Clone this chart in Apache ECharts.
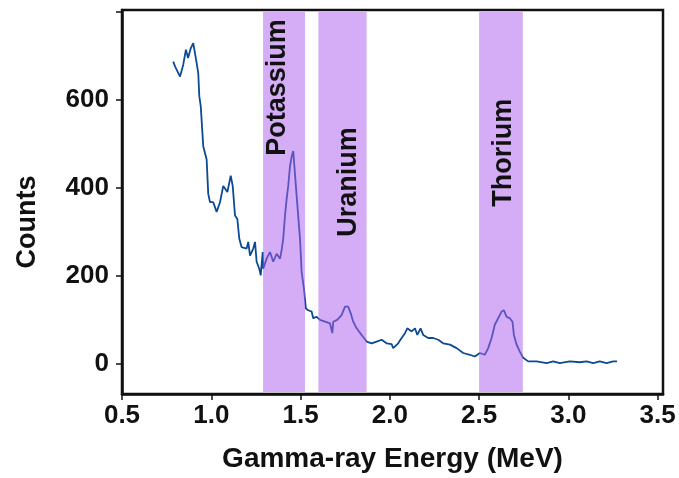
<!DOCTYPE html>
<html>
<head>
<meta charset="utf-8">
<script src="https://cdn.jsdelivr.net/npm/echarts@6/dist/echarts.min.js"></script>
<style>html,body{margin:0;padding:0;background:#fff;}#c{width:679px;height:478px;}</style>
</head>
<body>
<div id="c"></div>
<script>
const energy = [0.787,0.797,0.825,0.843,0.858,0.870,0.885,0.899,0.918,0.927,0.933,0.941,0.955,0.974,0.983,0.993,1.011,1.030,1.049,1.067,1.090,1.109,1.120,1.133,1.146,1.157,1.170,1.198,1.207,1.217,1.235,1.245,1.254,1.269,1.277,1.288,
  1.291,1.310,1.329,1.347,1.366,1.385,1.394,1.403,1.413,1.422,1.431,1.441,1.450,1.459,1.478,1.497,1.506,1.519,1.530,1.543,1.562,1.571,1.590,1.609,1.637,1.665,1.678,1.683,1.705,1.730,1.749,1.767,1.781,1.795,1.814,1.842,1.870,1.898,1.926,1.954,1.982,2.010,2.019,2.047,
  2.066,2.085,2.098,2.122,2.141,2.154,2.172,2.187,2.215,2.243,2.271,2.299,2.337,2.374,2.411,2.448,2.476,2.504,2.532,2.551,2.570,2.588,2.607,2.626,2.639,2.654,2.672,2.687,2.695,2.710,2.728,2.747,2.775,2.822,2.878,2.915,2.952,3.008,3.064,3.102,3.139,3.176,3.214,3.251,3.273];
const counts = [686,675,652,679,713,694,716,728,683,660,607,585,494,464,386,367,367,345,367,404,390,427,404,337,329,284,265,262,277,246,262,277,232,216,201,254,
  216,239,254,232,250,239,258,284,337,374,404,449,470,483,382,284,209,171,126,122,119,104,107,100,96,92,70,96,100,111,130,130,115,96,81,66,51,47,51,55,47,45,36,47,
  59,70,81,74,81,66,81,66,59,59,55,47,44,36,25,21,17,25,21,36,59,89,104,119,122,107,104,96,66,44,28,14,6,6,2,6,2,6,4,6,2,6,2,6,6];

const bandStart = [1.29, 1.60, 2.50];
const bandEnd = [1.525, 1.87, 2.745];
const bandLabels = ['Potassium', 'Uranium', 'Thorium'];
const bandLabelEnergy = [1.373, 1.768, 2.636];
const bandLabelCounts = [627, 413, 479];

const xTicks = [0.5, 1.0, 1.5, 2.0, 2.5, 3.0, 3.5];
const yTicks = [0, 200, 400, 600];

const FONT = '"Liberation Sans", Arial, Helvetica, sans-serif';
const lineData = energy.map((e, i) => [e, counts[i]]);
const bandData = bandStart.map((s, i) => [s, bandEnd[i], bandLabelEnergy[i], bandLabelCounts[i], bandLabels[i]]);

const chart = echarts.init(document.getElementById('c'), null, {renderer: 'canvas'});
chart.setOption({
  animation: false,
  backgroundColor: '#fff',
  grid: {left: 122, right: 16, top: 10, bottom: 82, show: true, borderColor: '#111', borderWidth: 2.5, backgroundColor: 'transparent'},
  xAxis: {
    type: 'value', min: 0.5, max: 3.53, interval: 0.5,
    axisLine: {show: true, onZero: false, lineStyle: {color: '#111', width: 2.5}},
    axisTick: {show: true, inside: false, length: 6, lineStyle: {color: '#111', width: 1.5}},
    splitLine: {show: false},
    axisLabel: {
      margin: 9, showMaxLabel: false, color: '#111', fontFamily: FONT, fontWeight: 'bold', fontSize: 26,
      formatter: v => xTicks.some(t => Math.abs(t - v) < 1e-6) ? v.toFixed(1) : ''
    },
    name: 'Gamma-ray Energy (MeV)', nameLocation: 'middle', nameGap: 51,
    nameTextStyle: {color: '#111', fontFamily: FONT, fontWeight: 'bold', fontSize: 28}
  },
  yAxis: {
    type: 'value', min: -68, max: 803,
    axisLine: {show: true, onZero: false, lineStyle: {color: '#111', width: 2.5}},
    axisTick: {show: true, inside: false, length: 6, lineStyle: {color: '#111', width: 1.5}},
    splitLine: {show: false},
    axisLabel: {
      margin: 13, showMinLabel: false, showMaxLabel: false, color: '#111', fontFamily: FONT, fontWeight: 'bold', fontSize: 26,
      formatter: v => yTicks.indexOf(Math.round(v)) >= 0 && Math.abs(v - Math.round(v)) < 1e-6 ? String(Math.round(v)) : ''
    }
  },
  graphic: [{
    type: 'text', x: 28, y: 222, rotation: Math.PI / 2,
    style: {text: 'Counts', font: 'bold 27px ' + FONT, fill: '#111', align: 'center', verticalAlign: 'middle'}
  }],
  series: [{
    type: 'line', data: lineData, showSymbol: false, z: 2,
    lineStyle: {color: '#0c4a93', width: 1.8}
  }, {
    type: 'custom', z: 3, data: bandData,
    encode: {x: [0, 1], y: 3},
    renderItem: function (params, api) {
      const cs = params.coordSys;
      const x0 = api.coord([api.value(0), 0])[0];
      const x1 = api.coord([api.value(1), 0])[0];
      const lp = api.coord([api.value(2), api.value(3)]);
      const label = bandLabels[params.dataIndex];
      return {
        type: 'group',
        children: [{
          type: 'rect',
          shape: {x: x0, y: cs.y + 2, width: x1 - x0, height: cs.height - 4},
          style: {fill: 'rgba(172,92,240,0.5)'}
        }, {
          type: 'text', x: lp[0], y: lp[1], rotation: Math.PI / 2,
          style: {text: label, font: 'bold 27px ' + FONT, fill: '#111', align: 'center', verticalAlign: 'middle'}
        }]
      };
    }
  }]
});
</script>
</body>
</html>
